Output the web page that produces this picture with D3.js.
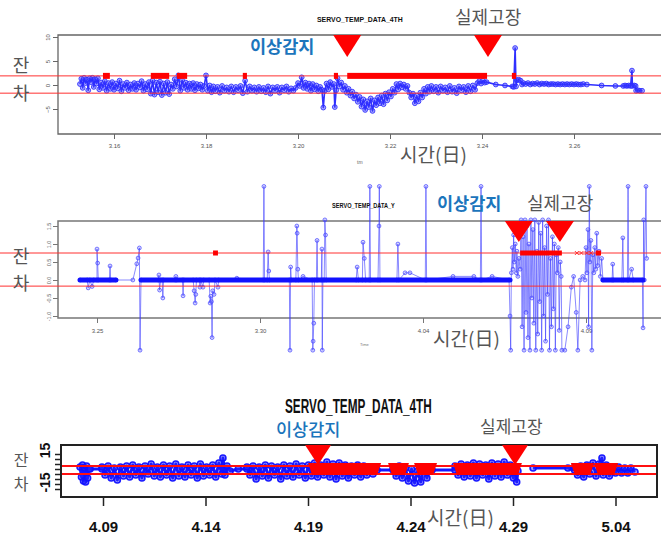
<!DOCTYPE html>
<html><head><meta charset="utf-8">
<script src="https://cdn.jsdelivr.net/npm/d3@7"></script>
<style>body{margin:0;background:#fff;}svg{display:block}</style>
</head><body>
<script>
// ---------------- DATA ----------------
// Panel 1 : SERVO_TEMP_DATA_4TH (March, day of month)
const p1XTicks = [16, 18, 20, 22, 24, 26];
const p1XLabels = ["3.16", "3.18", "3.20", "3.22", "3.24", "3.26"];
const p1YTicks = [10, 5, 0, -5];
const p1Thresh = [1.9, -1.7];
const p1Series = [
[15.26,0.2],[15.29,1.3],[15.32,-0.6],[15.35,1.5],[15.38,0.4],[15.41,1.1],[15.44,-1.1],[15.47,1.4],[15.50,0.6],[15.53,1.5],[15.56,-0.4],[15.59,1.2],[15.62,0.3],[15.65,1.4],[15.68,-0.9],[15.72,0.5],[15.76,-0.6],[15.80,0.8],[15.84,-1.2],[15.88,0.4],[15.92,-0.8],[15.96,0.6],[16.00,-1.0],[16.04,0.3],[16.08,-0.7],[16.12,0.9],[16.16,-1.3],[16.20,0.2],[16.24,-0.6],[16.28,0.5],[16.32,-1.1],[16.36,0.1],[16.40,-0.8],[16.44,0.4],[16.48,-1.0],[16.52,0.3],[16.56,-0.5],[16.60,0.8],[16.64,-1.2],[16.68,0.2],[16.72,-0.9],[16.76,0.6],[16.80,-1.8],[16.84,0.9],[16.88,-2.0],[16.92,0.5],[16.96,-1.5],[17.00,0.7],[17.04,-2.1],[17.08,0.3],[17.12,-1.6],[17.16,0.6],[17.20,-1.9],[17.24,0.1],[17.28,-0.8],[17.32,1.2],[17.36,-0.3],[17.40,2.0],[17.44,-1.2],[17.48,1.0],[17.52,-0.6],[17.56,0.5],[17.60,-1.0],[17.64,0.3],[17.68,-0.8],[17.72,0.4],[17.76,-1.1],[17.80,0.2],[17.84,-0.7],[17.88,0.1],[17.92,-1.0],[17.96,-0.2],[18.00,2.0],[18.04,-1.2],[18.08,-0.1],[18.12,-1.5],[18.16,-0.3],[18.20,-1.3],[18.25,-0.4],[18.30,-1.6],[18.35,-0.2],[18.40,-1.2],[18.45,-0.5],[18.50,-1.4],[18.55,-0.3],[18.60,-1.5],[18.65,-0.4],[18.70,-1.1],[18.75,-0.2],[18.80,-1.7],[18.85,0.9],[18.90,-1.4],[18.95,-0.3],[19.00,-1.2],[19.05,-0.5],[19.10,-1.4],[19.15,-0.4],[19.20,-1.3],[19.25,-0.6],[19.30,-1.5],[19.35,-0.3],[19.40,-1.8],[19.45,-0.5],[19.50,-1.2],[19.55,-0.4],[19.60,-1.6],[19.65,-0.5],[19.70,-1.1],[19.75,-0.3],[19.80,-1.4],[19.85,-0.7],[19.90,-1.2],[19.95,-0.6],[20.00,0.4],[20.04,-0.2],[20.08,1.6],[20.12,-0.6],[20.16,0.5],[20.20,-0.8],[20.24,0.3],[20.28,-1.2],[20.32,0.2],[20.36,-0.9],[20.40,-0.1],[20.44,-1.3],[20.48,-0.4],[20.52,-1.0],[20.55,-4.7],[20.58,-1.2],[20.62,0.3],[20.66,-0.9],[20.70,0.6],[20.74,-0.4],[20.78,0.2],[20.80,-4.6],[20.83,-1.1],[20.86,1.4],[20.90,-0.3],[20.94,0.5],[20.98,-1.0],[21.02,-0.2],[21.06,-1.6],[21.10,-0.8],[21.14,-2.2],[21.18,-1.4],[21.22,-2.8],[21.26,-2.0],[21.30,-3.5],[21.34,-2.5],[21.38,-4.5],[21.42,-3.0],[21.46,-5.2],[21.50,-3.4],[21.54,-4.6],[21.58,-2.8],[21.62,-5.4],[21.66,-3.2],[21.70,-4.2],[21.74,-2.6],[21.78,-3.8],[21.82,-2.2],[21.86,-4.0],[21.90,-1.8],[21.94,-3.2],[21.98,-1.5],[22.02,-2.4],[22.06,-0.8],[22.10,-1.6],[22.14,0.2],[22.18,-0.9],[22.22,0.3],[22.26,-0.5],[22.30,0.1],[22.34,-0.8],[22.38,-0.2],[22.42,-1.6],[22.46,-2.6],[22.50,-1.8],[22.54,-3.8],[22.58,-2.2],[22.62,-3.4],[22.66,-1.6],[22.70,-2.6],[22.74,-0.8],[22.78,-1.8],[22.82,-0.4],[22.86,-1.4],[22.90,-0.2],[22.95,-1.3],[23.00,-0.4],[23.05,-1.6],[23.10,-0.3],[23.15,-1.2],[23.20,-0.5],[23.25,-1.5],[23.30,-0.2],[23.35,-1.4],[23.40,-0.6],[23.45,-1.7],[23.50,-0.3],[23.55,-1.1],[23.60,-0.4],[23.65,-1.5],[23.70,-0.2],[23.75,-1.3],[23.80,-0.1],[23.85,-1.0],[23.90,0.4],[23.94,0.8],[23.98,0.3],[24.02,0.9],[24.06,0.5],[24.10,0.6],[24.30,0.1],[24.50,-0.1],[24.66,-0.3],[24.69,-0.4],[24.72,7.7],[24.74,-0.3],[24.76,1.0],[24.80,1.1],[24.84,0.9],[24.87,0.1],[24.90,0.4],[24.95,0.2],[25.00,0.4],[25.05,0.1],[25.10,0.3],[25.15,0.2],[25.20,0.4],[25.25,0.1],[25.30,0.3],[25.35,0.2],[25.40,0.3],[25.45,0.1],[25.50,0.2],[25.55,0.2],[25.60,0.1],[25.65,0.2],[25.70,0.1],[25.75,0.2],[25.80,0.1],[25.85,0.2],[25.90,0.1],[25.95,0.2],[26.00,0.1],[26.05,0.2],[26.10,0.1],[26.15,0.1],[26.20,0.2],[26.28,0.1],[26.60,-0.1],[26.90,-0.2],[27.07,-0.2],[27.11,-0.1],[27.15,-0.2],[27.19,-0.1],[27.23,-0.2],[27.26,3.0],[27.27,-0.2],[27.31,-0.1],[27.34,-0.2],[27.35,-1.2],[27.39,-1.1],[27.43,-1.2],[27.48,-1.2]
];
const p1AnomStart = [15.76, 16.80, 17.37, 18.80, 20.78, 21.07, 24.65];
const p1AnomEnd   = [15.91, 17.20, 17.59, 18.89, 20.87, 24.11, 24.74];
const p1Fault = [21.07, 24.13];

// Panel 2 : SERVO_TEMP_DATA_Y (days after 3/25)
const p2XTicks = [0, 5, 10, 15];
const p2XLabels = ["3.25", "3.30", "4.04", "4.09"];
const p2YTicks = [1.5, 1.0, 0.5, 0.0, -0.5, -1.0];
const p2YLabels = ["1.5", "1.0", "0.5", "0.0", "-0.5", "-1.0"];
const p2Thresh = [0.75, -0.17];
const p2FlatStart = [-0.52, 1.35, 15.52];
const p2FlatEnd   = [0.58, 12.67, 16.75];
const p2Series = [
[-0.52,0],[-0.3,0],[-0.27,-0.22],[-0.22,0],[-0.15,-0.18],[-0.1,0],[0,0],[0.0,0.86],[0.02,0.47],[0.04,0],[0.38,0],[0.40,0.39],[0.42,0],[0.58,0],[1.10,0],[1.22,0.45],[1.26,0.61],[1.30,0.89],[1.32,-1.95],[1.35,0],
[1.88,0],[1.90,0.14],[1.92,-0.28],[1.95,0],[2.0,0],[2.02,-0.5],[2.04,0],[2.40,0],[2.42,0.1],[2.44,0],[2.62,0],[2.64,-0.44],[2.66,0],[2.95,0],[2.98,-0.3],[3.01,-0.64],[3.03,-0.4],[3.05,0],[3.14,0],[3.16,-0.2],[3.18,0],[3.25,-0.2],[3.27,0],[3.44,0],[3.47,-0.64],[3.49,-0.45],[3.51,-0.6],[3.53,-1.6],[3.55,-0.3],[3.59,-0.4],[3.62,0],[3.71,-0.2],[3.73,0],
[4.29,0.05],[5.10,0],[5.12,2.6],[5.14,0],[5.22,0],[5.25,0.78],[5.27,0.25],[5.29,0],[5.90,0],[5.92,-1.95],[5.94,0.36],[5.96,0],[6.10,0],[6.13,1.5],[6.14,1.3],[6.16,0.3],[6.18,0],[6.32,0.1],[6.60,0],[6.62,-1.95],[6.63,-1.7],[6.65,-1.2],[6.67,0],[6.73,0],[6.75,1.1],[6.77,0],[6.88,0],[6.90,0.86],[6.91,-1.95],[6.93,0],[6.97,0],[6.99,1.67],[7.01,1.25],[7.03,0],
[7.95,0],[7.98,0.36],[8.02,0],[8.14,0],[8.16,1.05],[8.20,0.6],[8.24,0],[8.35,0],[8.37,2.6],[8.39,0],[8.62,0],[8.65,1.5],[8.66,2.6],[8.68,0],[9.20,0],[9.23,1.0],[9.26,0],[9.45,0.2],[9.60,0.2],[10.07,0],[10.09,2.6],[10.11,0],[10.92,0.1],[11.56,0.1],[11.76,0],[11.78,2.6],[11.80,0],[12.12,0.1],[12.64,0],
[12.67,-1.0],[12.69,-1.95],[12.71,0.2],[12.74,0.9],[12.76,0.3],[12.78,1.25],[12.80,0.5],[12.83,1.0],[12.86,0.2],[12.88,0.8],[12.91,0.1],[12.94,0.6],[12.98,0.3],
[13.01,1.67],[13.04,-1.3],[13.07,1.2],[13.10,-1.95],[13.13,1.67],[13.16,-0.9],[13.19,1.5],[13.22,-1.6],[13.25,1.0],[13.28,-1.95],[13.31,1.67],[13.34,-0.5],[13.37,1.4],[13.40,-1.2],[13.43,1.67],[13.46,-1.95],[13.49,0.8],[13.52,-1.5],[13.55,1.6],[13.58,-0.6],[13.61,1.3],[13.64,-1.95],[13.67,1.67],[13.70,-1.0],[13.73,0.9],[13.76,-1.7],[13.79,1.5],[13.82,-0.4],[13.85,1.67],[13.88,-1.95],[13.91,0.6],[13.94,-1.3],[13.97,1.2],[14.00,-0.8],[14.03,1.0],[14.06,-1.95],[14.09,0.7],[14.12,0.2],[14.15,0.9],[14.18,-1.4],[14.21,0.5],[14.24,0.1],[14.26,-1.95],
[14.35,-1.95],[14.45,-1.3],[14.55,-0.2],[14.62,0.1],[14.70,-0.9],[14.75,-1.95],[14.82,0.0],[14.90,0.1],[14.97,0.0],
[15.0,0.9],[15.03,0.2],[15.06,1.4],[15.08,-1.3],[15.10,2.6],[15.12,0.5],[15.15,1.1],[15.18,-1.95],[15.21,0.7],[15.24,0.2],[15.27,0.9],[15.30,0.3],[15.33,1.3],[15.36,0.4],[15.40,0.8],[15.44,0.1],[15.48,0.6],[15.52,0],
[15.80,0],[15.82,0.44],[15.84,0],[16.10,0],[16.13,1.17],[16.15,0],[16.27,0],[16.29,2.6],[16.31,0],[16.40,0.3],[16.45,0],[16.73,0],[16.75,-1.33],[16.77,1.67],[16.79,0],[16.84,2.6],[16.86,0.6]
];
const p2AnomStart = [3.56, 12.98, 15.30];
const p2AnomEnd   = [3.71, 14.26, 15.46];
const p2AnomX = [14.72, 14.86, 15.02, 15.16];
const p2Fault = [12.94, 14.20];

// Panel 3 : SERVO_TEMP_DATA_4TH (days after 4/09)
const p3XTicks = [0, 5, 10, 15, 20, 25];
const p3XLabels = ["4.09", "4.14", "4.19", "4.24", "4.29", "5.04"];
const p3YTicks = [15, 10, 5, 0, -5, -10, -15, -20];
const p3YLabeled = [15, -15];
const p3Thresh = [3, -5];
const p3Series = [
[-1.12,2],[-1.05,-8],[-1.0,4],[-0.95,-12],[-0.9,1],[-0.85,-13],[-0.8,3],[-0.75,-9],[-0.7,0],[-0.63,0],[-0.05,0],
[-0.05,2],[0.1,-6],[0.25,3],[0.4,-9],[0.55,1],[0.7,-11],[0.85,2],[1.0,-7],[1.15,3],[1.3,-8],[1.45,4],[1.6,-6],[1.75,2],[1.9,-9],[2.05,3],[2.2,-5],[2.35,5],[2.5,-7],[2.65,2],[2.8,-8],[2.95,4],[3.1,-6],[3.25,3],[3.4,-9],[3.55,5],[3.7,-7],[3.85,2],[4.0,-8],[4.15,4],[4.3,-6],[4.45,3],[4.6,-9],[4.75,5],[4.9,-7],[5.05,2],[5.2,-6],[5.35,4],[5.5,-8],[5.65,6],[5.8,-5],[5.85,11],[5.95,-6],[6.05,3],[6.2,-2],
[6.6,0],[7.02,0],
[7.02,2],[7.17,-6],[7.32,3],[7.47,-10],[7.62,2],[7.77,-7],[7.92,4],[8.07,-9],[8.22,3],[8.37,-6],[8.52,2],[8.67,-10],[8.82,4],[8.97,-7],[9.12,3],[9.27,-8],[9.42,5],[9.57,-6],[9.72,3],[9.87,-9],[10.02,4],[10.17,-7],[10.32,6],[10.47,-8],[10.62,4],[10.77,-6],[10.92,7],[11.07,-8],[11.22,5],[11.37,-10],[11.52,6],[11.67,-7],[11.82,4],[11.97,-9],[12.12,3],[12.27,-6],[12.42,4],[12.57,-8],[12.72,3],[12.87,-6],[13.02,2],[13.17,-5],[13.37,-1],
[14.15,-1],
[14.15,2],[14.3,-7],[14.45,3],[14.6,-9],[14.75,1],[14.9,-12],[15.05,0],[15.2,-14],[15.35,-2],[15.5,-13],[15.65,1],[15.8,-9],[15.95,2],[16.05,-1],
[17.17,-1],
[17.17,3],[17.32,-6],[17.47,5],[17.62,-8],[17.77,4],[17.92,-7],[18.07,6],[18.22,-9],[18.37,5],[18.52,-6],[18.67,4],[18.82,-10],[18.97,6],[19.12,-7],[19.27,5],[19.42,-8],[19.57,7],[19.72,-6],[19.87,4],[20.02,-9],[20.12,2],[20.18,-13],[20.24,-2],
[20.6,null],
[20.98,1],[22.68,1],[23.0,-1],
[23.0,2],[23.15,-6],[23.3,3],[23.45,-8],[23.6,4],[23.75,-5],[23.9,6],[24.05,-7],[24.2,5],[24.34,11],[24.4,-6],[24.55,4],[24.7,-7],[24.85,2],[25.0,-4],[25.15,2],[25.3,-4],[25.45,1],[25.6,-4],[25.75,1],[25.95,-3]
];
const p3AnomStart = [10.2, 14.1, 15.37, 17.27, 23.02, 24.15];
const p3AnomEnd   = [13.37, 14.73, 16.10, 20.24, 23.76, 24.93];
const p3Fault = [10.49, 20.1];

// ---------------- DRAW ----------------
const W = 661, H = 538;
const KR = "'Noto Sans CJK KR','Noto Sans',sans-serif";
const NARROW = "'Liberation Sans Narrow','Arial Narrow','Liberation Sans',sans-serif";
const svg = d3.select("body").append("svg").attr("width", W).attr("height", H);
svg.append("rect").attr("width", W).attr("height", H).attr("fill", "#fff");

function drawSeries(g, xs, ys, data, st) {
  const line = d3.line().defined(d => d[1] !== null).x(d => xs(d[0])).y(d => ys(d[1]));
  g.append("path").datum(data).attr("d", line).attr("fill", "none")
    .attr("stroke", st.lc).attr("stroke-width", st.lw).attr("stroke-opacity", st.lo)
    .attr("stroke-linejoin", "round");
  g.append("g").selectAll("circle").data(data.filter(d => d[1] !== null)).join("circle")
    .attr("cx", d => xs(d[0])).attr("cy", d => ys(d[1])).attr("r", st.r)
    .attr("fill", st.pf).attr("stroke", st.pc).attr("stroke-width", st.pw).attr("stroke-opacity", st.po);
}
function tri(xs, yTop, t, hw, h) {
  const cx = xs(t);
  return `M${cx - hw},${yTop}L${cx + hw},${yTop}L${cx},${yTop + h}Z`;
}
function krText(x, y, s, size, fill, weight, anchor) {
  svg.append("text").attr("x", x).attr("y", y).text(s)
    .attr("font-family", KR).attr("font-size", size).attr("fill", fill)
    .attr("font-weight", weight || 400).attr("text-anchor", anchor || "start");
}
// title squeezed horizontally to a target width (condensed look)
function squeezedTitle(x, y, s, size, width) {
  const t = svg.append("text").attr("x", 0).attr("y", 0).text(s)
    .attr("font-family", NARROW).attr("font-weight", 700).attr("font-size", size).attr("fill", "#111");
  const len = t.node().getComputedTextLength() || width;
  t.attr("transform", `translate(${x},${y}) scale(${width / len},1)`);
}

// ===== Panel 1 =====
{
  const x = d3.scaleLinear().domain([16, 26]).range([114, 574]);
  const y = d3.scaleLinear().domain([-5, 10]).range([109, 37]);
  const g = svg.append("g");
  g.append("path").attr("d", "M700,35H58V134H700").attr("fill", "none").attr("stroke", "#666").attr("stroke-width", 1.3);
  const ax = g.append("g").attr("transform", "translate(0,134)")
    .call(d3.axisBottom(x).tickValues(p1XTicks).tickFormat((d, i) => p1XLabels[i]).tickSize(5).tickPadding(5));
  ax.select(".domain").remove();
  ax.selectAll("line").attr("stroke", "#666");
  ax.selectAll("text").attr("font-size", 6).attr("fill", "#555").attr("font-family", NARROW);
  const ay = g.append("g").attr("transform", "translate(58,0)")
    .call(d3.axisLeft(y).tickValues(p1YTicks).tickSize(5));
  ay.select(".domain").remove();
  ay.selectAll("line").attr("stroke", "#666");
  ay.selectAll("text").attr("x", 0).attr("dy", 0).attr("text-anchor", "middle")
    .attr("transform", "translate(-8,0) rotate(-90)").attr("font-size", 6).attr("fill", "#555").attr("font-family", NARROW);

  drawSeries(g, x, y, p1Series, {lc: "#1a1aff", lw: 1.6, lo: 0.9, r: 2.4, pf: "rgba(60,60,255,0.45)", pc: "#2a2aff", pw: 1, po: 0.85});

  g.selectAll(".th").data(p1Thresh).join("line").attr("x1", 0).attr("x2", W)
    .attr("y1", d => y(d)).attr("y2", d => y(d)).attr("stroke", "#ff3030").attr("stroke-width", 1);
  g.selectAll(".an").data(p1AnomStart).join("rect")
    .attr("x", (d, i) => x(d)).attr("width", (d, i) => Math.max(2, x(p1AnomEnd[i]) - x(d)))
    .attr("y", y(p1Thresh[0]) - 3).attr("height", 6).attr("fill", "#ff0000");
  g.selectAll(".fl").data(p1Fault).join("path").attr("d", d => tri(x, 35, d, 14, 22)).attr("fill", "#ff0000");

  squeezedTitle(317, 22, "SERVO_TEMP_DATA_4TH", 7, 86);
  svg.append("text").attr("x", 357).attr("y", 164).text("tm").attr("font-size", 5).attr("fill", "#666").attr("font-family", NARROW);
}

// ===== Panel 2 =====
{
  const x = d3.scaleLinear().domain([0, 15]).range([97, 586]);
  const y = d3.scaleLinear().domain([-1, 1.5]).range([316, 226]);
  const g = svg.append("g");
  g.append("path").attr("d", "M700,221H58V318H700").attr("fill", "none").attr("stroke", "#777").attr("stroke-width", 1.5);
  const ax = g.append("g").attr("transform", "translate(0,318)")
    .call(d3.axisBottom(x).tickValues(p2XTicks).tickFormat((d, i) => p2XLabels[i]).tickSize(5).tickPadding(6));
  ax.select(".domain").remove();
  ax.selectAll("line").attr("stroke", "#777");
  ax.selectAll("text").attr("font-size", 6).attr("fill", "#555").attr("font-family", NARROW);
  const ay = g.append("g").attr("transform", "translate(58,0)")
    .call(d3.axisLeft(y).tickValues(p2YTicks).tickFormat((d, i) => p2YLabels[i]).tickSize(5));
  ay.select(".domain").remove();
  ay.selectAll("line").attr("stroke", "#777");
  ay.selectAll("text").attr("x", 0).attr("dy", 0).attr("text-anchor", "middle")
    .attr("transform", "translate(-7,0) rotate(-90)").attr("font-size", 5.5).attr("fill", "#666").attr("font-family", NARROW);

  drawSeries(g, x, y, p2Series, {lc: "#3b3bff", lw: 1, lo: 0.6, r: 1.9, pf: "rgba(90,90,255,0.25)", pc: "#4a4aff", pw: 0.9, po: 0.8});
  g.selectAll(".flat").data(p2FlatStart).join("line")
    .attr("x1", d => x(d)).attr("x2", (d, i) => x(p2FlatEnd[i]))
    .attr("y1", y(0)).attr("y2", y(0)).attr("stroke", "#1212ff").attr("stroke-width", 5).attr("stroke-linecap", "round");

  g.selectAll(".th").data(p2Thresh).join("line").attr("x1", 0).attr("x2", W)
    .attr("y1", d => y(d)).attr("y2", d => y(d)).attr("stroke", "#ff3030").attr("stroke-width", 1);
  g.selectAll(".an").data(p2AnomStart).join("rect")
    .attr("x", d => x(d)).attr("width", (d, i) => Math.max(3, x(p2AnomEnd[i]) - x(d)))
    .attr("y", y(p2Thresh[0]) - 2.5).attr("height", 5).attr("fill", "#ff0000");
  g.selectAll(".ax").data(p2AnomX).join("path")
    .attr("d", d => { const cx = x(d), cy = y(p2Thresh[0]); return `M${cx-2},${cy-2}L${cx+2},${cy+2}M${cx-2},${cy+2}L${cx+2},${cy-2}`; })
    .attr("stroke", "#ff2020").attr("stroke-width", 0.9);
  g.selectAll(".fl").data(p2Fault).join("path").attr("d", d => tri(x, 221, d, 14, 21)).attr("fill", "#ff0000");

  squeezedTitle(332, 208, "SERVO_TEMP_DATA_Y", 7, 63);
  svg.append("text").attr("x", 360).attr("y", 346).text("Time").attr("font-size", 4).attr("fill", "#777").attr("font-family", NARROW);
}

// ===== Panel 3 =====
{
  const x = d3.scaleLinear().domain([0, 25]).range([103, 615.5]);
  const y = d3.scaleLinear().domain([-20, 15]).range([489, 454]);
  const g = svg.append("g");
  g.append("rect").attr("x", 61).attr("y", 445).attr("width", 596).attr("height", 52)
    .attr("fill", "none").attr("stroke", "#222").attr("stroke-width", 2);
  const ax = g.append("g").attr("transform", "translate(0,497)")
    .call(d3.axisBottom(x).tickValues(p3XTicks).tickFormat((d, i) => p3XLabels[i]).tickSize(9).tickPadding(15));
  ax.select(".domain").remove();
  ax.selectAll("line").attr("stroke", "#222").attr("stroke-width", 1.5);
  ax.selectAll("text").attr("font-size", 15).attr("fill", "#111").attr("font-family", NARROW).attr("font-weight", 700);
  const ay = g.append("g").attr("transform", "translate(61,0)")
    .call(d3.axisLeft(y).tickValues(p3YTicks).tickFormat(d => p3YLabeled.includes(d) ? String(d) : "").tickSize(6));
  ay.select(".domain").remove();
  ay.selectAll("line").attr("stroke", "#222").attr("stroke-width", 1.5);
  ay.selectAll("text").attr("x", 0).attr("dy", 0).attr("text-anchor", "middle")
    .attr("transform", d => `translate(-11,${d > 0 ? -4 : -2}) rotate(-90)`).attr("font-size", 14).attr("fill", "#111")
    .attr("font-family", NARROW).attr("font-weight", 700);

  drawSeries(g, x, y, p3Series, {lc: "#0a0aff", lw: 3, lo: 0.95, r: 3, pf: "rgba(40,40,255,0.45)", pc: "#1010ff", pw: 1.6, po: 0.95});

  g.selectAll(".th").data(p3Thresh).join("line").attr("x1", 62).attr("x2", 656)
    .attr("y1", d => y(d)).attr("y2", d => y(d)).attr("stroke", "#ff1010").attr("stroke-width", 2);
  g.selectAll(".an").data(p3AnomStart).join("path")
    .attr("d", (d, i) => {
      const x0 = x(d), x1 = x(p3AnomEnd[i]), yt = y(6), yb = y(-6);
      return `M${x0 - 4},${yt}L${x1 + 4},${yt}L${x1},${yb}L${x0},${yb}Z`;
    }).attr("fill", "#ff0000");
  g.selectAll(".fl").data(p3Fault).join("path").attr("d", d => tri(x, 445, d, 13, 20)).attr("fill", "#ff0000");

  squeezedTitle(285, 413, "SERVO_TEMP_DATA_4TH", 20, 147);
}

// ===== Korean annotations =====
const gray = "#555", blue = "#1b75bc";
[[72, "잔"], [100, "차"], [263, "잔"], [290, "차"]].forEach(d => krText(21, d[0], d[1], 18, gray, 400, "middle"));
[[466, "잔"], [490, "차"]].forEach(d => krText(21, d[0], d[1], 16, gray, 400, "middle"));
krText(400, 162, "시간(日)", 19, gray);
krText(433, 346, "시간(日)", 19, gray);
krText(427, 525, "시간(日)", 19, gray);
krText(455, 24, "실제고장", 18, gray);
krText(527, 210, "실제고장", 18, gray);
krText(480, 433, "실제고장", 17, gray);
krText(250, 53, "이상감지", 17.5, blue, 700);
krText(437, 210, "이상감지", 17.5, blue, 700);
krText(276, 436, "이상감지", 17.5, blue, 500);
</script>
</body></html>
